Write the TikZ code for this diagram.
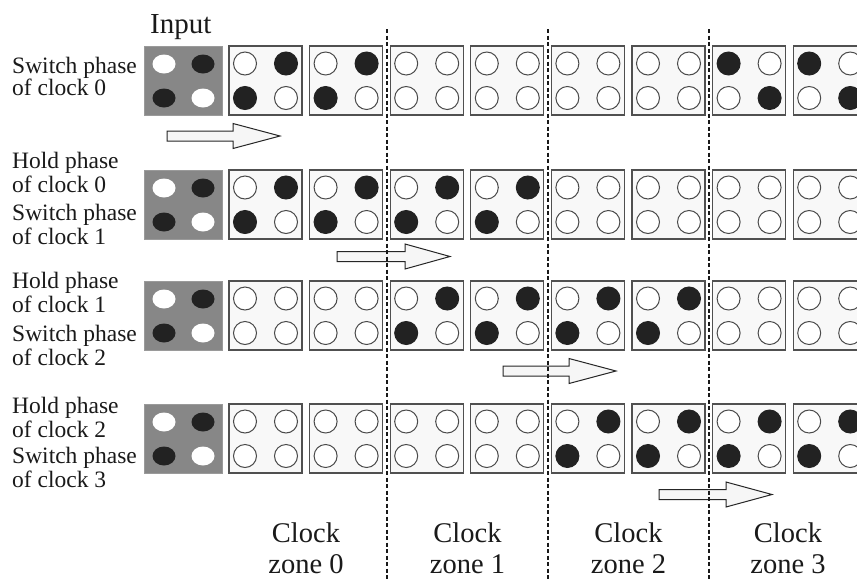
\documentclass[tikz,border=0pt]{standalone}
\usepackage{fontspec}
\setmainfont{Liberation Serif}
\usetikzlibrary{shapes.geometric}
\definecolor{cellgray}{HTML}{505050}
\definecolor{cellfill}{HTML}{F8F8F8}
\definecolor{circgray}{HTML}{4A4A4A}
\definecolor{dotblack}{HTML}{222222}
\definecolor{inputgray}{HTML}{878787}
\definecolor{inputedge}{HTML}{9A9A9A}
\definecolor{arrowfill}{HTML}{F6F6F6}
\definecolor{inkblack}{HTML}{1A1A1A}
\begin{document}
\begin{tikzpicture}[x=1pt,y=-1pt,
  cellbox/.style={rectangle, draw=cellgray, fill=cellfill, line width=1.2pt,
    minimum width=73pt, minimum height=69pt, inner sep=0pt, outer sep=0pt, anchor=north west},
  hollow/.style={circle, draw=circgray, fill=white, line width=1pt, minimum size=23pt, inner sep=0pt},
  full/.style={circle, draw=dotblack, fill=dotblack, line width=1pt, minimum size=23pt, inner sep=0pt},
  inbox/.style={rectangle, fill=inputgray, draw=inputedge, line width=1pt,
    minimum width=78pt, minimum height=69pt, inner sep=0pt, outer sep=0pt, anchor=north west},
  inwhite/.style={ellipse, fill=white, minimum width=23pt, minimum height=19pt, inner sep=0pt},
  inblack/.style={ellipse, fill=dotblack, minimum width=23pt, minimum height=19pt, inner sep=0pt},
  rowlabel/.style={anchor=base west, inner sep=0pt, font=\fontsize{23.5}{28}\selectfont, text=inkblack},
  zonelabel/.style={anchor=base, inner sep=0pt, font=\fontsize{28.5}{32}\selectfont, text=inkblack},
  blockarrow/.style={draw=black!85, fill=arrowfill, line width=1pt, line join=miter},
  zoneline/.style={draw=black!90, line width=1.1pt, dash pattern=on 4pt off 2.5pt}
]
\useasboundingbox (0,0) rectangle (857,579);
\fill[white] (0,0) rectangle (857,579);

% rows of cells
\foreach \r/\top/\pa/\pb/\pc/\pd/\pe/\pf/\pg/\ph in
  {1/46/1/1/0/0/0/0/2/2, 2/170/1/1/1/1/0/0/0/0, 3/281/0/0/1/1/1/1/0/0, 4/404/0/0/0/0/1/1/1/1}{
  \node[inbox] (in-\r) at (144,\top) {};
  \node[inwhite] (in-\r-tl) at (164,\top+18) {};
  \node[inblack] (in-\r-tr) at (203,\top+18) {};
  \node[inblack] (in-\r-bl) at (164,\top+52) {};
  \node[inwhite] (in-\r-br) at (203,\top+52) {};
  \foreach \k/\s in {1/\pa,2/\pb,3/\pc,4/\pd,5/\pe,6/\pf,7/\pg,8/\ph}{
    \pgfmathsetmacro\lx{229+80.6*(\k-1)}
    \ifnum\s=2 \def\qtl{full}\def\qtr{hollow}\else
      \ifnum\s=1 \def\qtl{hollow}\def\qtr{full}\else
        \def\qtl{hollow}\def\qtr{hollow}\fi\fi
    \node[cellbox] (c-\r-\k) at (\lx,\top) {};
    \node[\qtl] (c-\r-\k-tl) at (\lx+16,\top+17.5) {};
    \node[\qtr] (c-\r-\k-tr) at (\lx+57,\top+17.5) {};
    \node[\qtr] (c-\r-\k-bl) at (\lx+16,\top+52) {};
    \node[\qtl] (c-\r-\k-br) at (\lx+57,\top+52) {};
  }
}

% block arrows
\foreach \xa/\xb/\xc/\yc in {167/233/280/136, 337/405/450/256.5, 503/569/616/371, 659/726/772/494.5}{
  \draw[blockarrow] (\xa,\yc-5) -- (\xb,\yc-5) -- (\xb,\yc-12.5) -- (\xc,\yc)
    -- (\xb,\yc+12.5) -- (\xb,\yc+5) -- (\xa,\yc+5) -- cycle;
}

% zone boundaries
\foreach \n/\zx in {1/387, 2/548, 3/709}{
  \coordinate (zt-\n) at (\zx,29);
  \coordinate (zb-\n) at (\zx,579);
  \draw[zoneline] (zt-\n) -- (zb-\n);
}

% labels
\node[anchor=base west, inner sep=0pt, font=\fontsize{29}{32}\selectfont, text=inkblack] (inlabel) at (150,33) {Input};

\node[rowlabel] (l1a) at (12,73) {Switch phase};
\node[rowlabel] (l1b) at (12,95) {of clock 0};
\node[rowlabel] (l2a) at (12,168) {Hold phase};
\node[rowlabel] (l2b) at (12,192) {of clock 0};
\node[rowlabel] (l2c) at (12,220) {Switch phase};
\node[rowlabel] (l2d) at (12,244) {of clock 1};
\node[rowlabel] (l3a) at (12,288) {Hold phase};
\node[rowlabel] (l3b) at (12,312) {of clock 1};
\node[rowlabel] (l3c) at (12,341) {Switch phase};
\node[rowlabel] (l3d) at (12,365) {of clock 2};
\node[rowlabel] (l4a) at (12,413) {Hold phase};
\node[rowlabel] (l4b) at (12,437) {of clock 2};
\node[rowlabel] (l4c) at (12,463) {Switch phase};
\node[rowlabel] (l4d) at (12,487) {of clock 3};

\foreach \n/\zx in {0/306, 1/467.5, 2/628.5, 3/788}{
  \node[zonelabel] (zc-\n) at (\zx,542) {Clock};
  \node[zonelabel] (zz-\n) at (\zx,573) {zone \n};
}
\end{tikzpicture}
\end{document}
